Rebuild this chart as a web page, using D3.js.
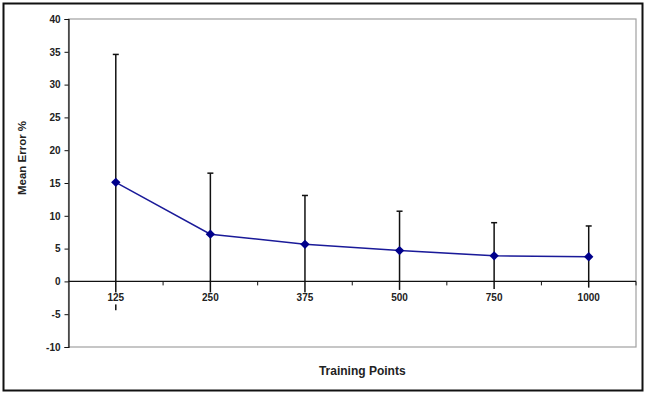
<!DOCTYPE html>
<html>
<head>
<meta charset="utf-8">
<script src="https://cdn.jsdelivr.net/npm/d3@7"></script>
<style>
  body { margin: 0; background: #fff; }
  text { font-family: "Liberation Sans", Arial, sans-serif; font-weight: bold; fill: #222; }
</style>
</head>
<body>
<div id="chart"></div>
<script>
// data
var categories = ["125", "250", "375", "500", "750", "1000"];
var meanError = [15.1, 7.2, 5.65, 4.7, 3.9, 3.75];
var errAmount = [19.5, 9.3, 7.45, 6.0, 5.05, 4.7];
var yTicks = [-10, -5, 0, 5, 10, 15, 20, 25, 30, 35, 40];

var width = 646
var height = 401
var plotL = 68.5, plotR = 636, plotT = 19, plotB = 347

var svg = d3.select("#chart")
	.append("svg")
	.attr("width", width)
	.attr("height", height);

// outer frame
svg.append("rect")
	.attr("x", 3.5).attr("y", 3.5)
	.attr("width", 639).attr("height", 387)
	.attr("fill", "none")
	.attr("stroke", "#111")
	.attr("stroke-width", 2);

var x = d3.scaleBand()
	.domain(categories)
	.range([plotL, plotR]);

var y = d3.scaleLinear()
	.domain([-10, 40])
	.range([plotB, plotT]);

// plot area border
svg.append("rect")
	.attr("x", plotL).attr("y", plotT)
	.attr("width", plotR - plotL).attr("height", plotB - plotT)
	.attr("fill", "none")
	.attr("stroke", "#a0a0a0")
	.attr("stroke-width", 1.2);

// y axis (plain hyphen for negatives, as in the original)
var yAxis = svg.append("g")
	.attr("transform", "translate(" + plotL + ",0)")
	.call(d3.axisLeft(y).tickValues(yTicks).tickSize(4).tickPadding(4).tickFormat(function (d) { return String(d); }));
yAxis.select(".domain").attr("stroke", "#111").attr("stroke-width", 1.2);
yAxis.selectAll(".tick line").attr("stroke", "#111");
yAxis.selectAll("text").style("font-size", "10px").attr("fill", "#222");

var pts = categories.map(function (c, i) {
	return { cat: c, v: meanError[i], e: errAmount[i] };
});

// error bars
var eb = svg.append("g");
eb.selectAll("line.bar")
	.data(pts).enter().append("line")
	.attr("x1", function (d) { return x(d.cat) + x.bandwidth() / 2; })
	.attr("x2", function (d) { return x(d.cat) + x.bandwidth() / 2; })
	.attr("y1", function (d) { return y(d.v + d.e); })
	.attr("y2", function (d) { return y(d.v - d.e); })
	.attr("stroke", "#111")
	.attr("stroke-width", 1.5);
eb.selectAll("line.cap")
	.data(pts).enter().append("line")
	.attr("x1", function (d) { return x(d.cat) + x.bandwidth() / 2 - 3; })
	.attr("x2", function (d) { return x(d.cat) + x.bandwidth() / 2 + 3; })
	.attr("y1", function (d) { return y(d.v + d.e); })
	.attr("y2", function (d) { return y(d.v + d.e); })
	.attr("stroke", "#111")
	.attr("stroke-width", 1.5);

// x axis on zero line, ticks between categories
var zeroY = y(0);
svg.append("line")
	.attr("x1", plotL).attr("x2", plotR)
	.attr("y1", zeroY).attr("y2", zeroY)
	.attr("stroke", "#111").attr("stroke-width", 1.2);
var bounds = categories.slice(1).map(function (c) { return x(c); }).concat([plotR]);
svg.selectAll("line.xtick")
	.data(bounds).enter().append("line")
	.attr("x1", function (d) { return d; }).attr("x2", function (d) { return d; })
	.attr("y1", zeroY).attr("y2", zeroY + 4)
	.attr("stroke", "#111").attr("stroke-width", 1);

// category labels with white backing (they hide the lower bars)
var lab = svg.selectAll("g.xlab")
	.data(categories).enter().append("g")
	.attr("transform", function (d) { return "translate(" + (x(d) + x.bandwidth() / 2) + "," + (zeroY + 20) + ")"; });
lab.append("rect")
	.attr("x", function (d) { return -d.length * 3.2 - 1; })
	.attr("y", -9)
	.attr("width", function (d) { return d.length * 6.4 + 2; })
	.attr("height", 12)
	.attr("fill", "#fff");
lab.append("text")
	.attr("text-anchor", "middle")
	.style("font-size", "10px")
	.text(function (d) { return d; });

// series line
svg.append("path")
	.datum(pts)
	.attr("fill", "none")
	.attr("stroke", "#1a1a99")
	.attr("stroke-width", 1.5)
	.attr("d", d3.line()
		.x(function (d) { return x(d.cat) + x.bandwidth() / 2; })
		.y(function (d) { return y(d.v); }));

svg.selectAll("path.pt")
	.data(pts).enter().append("path")
	.attr("transform", function (d) { return "translate(" + (x(d.cat) + x.bandwidth() / 2) + "," + y(d.v) + ")"; })
	.attr("d", d3.symbol().type(d3.symbolDiamond2).size(56)())
	.attr("fill", "#00008b");

// axis titles
svg.append("text")
	.attr("x", (plotL + plotR) / 2 + 10)
	.attr("y", 375)
	.attr("text-anchor", "middle")
	.style("font-size", "12px")
	.text("Training Points");

svg.append("text")
	.attr("transform", "translate(26,158) rotate(-90)")
	.attr("text-anchor", "middle")
	.style("font-size", "11.5px")
	.text("Mean Error %");
</script>
</body>
</html>
